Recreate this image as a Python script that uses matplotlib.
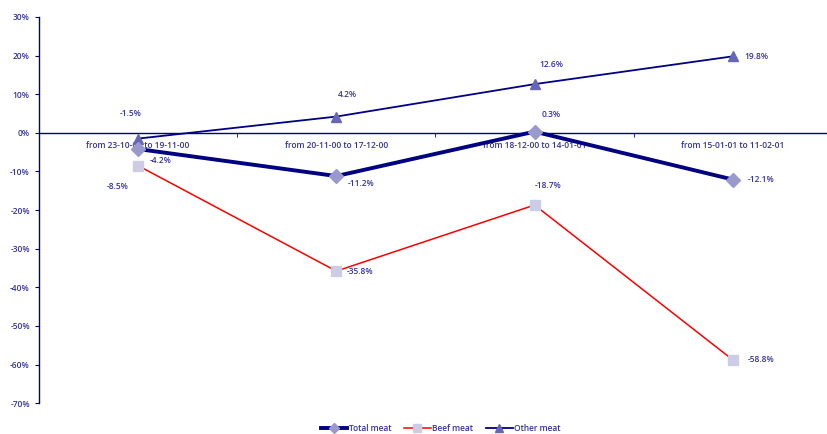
from matplotlib import pyplot as plt

periods = ["from 23-10-00 to 19-11-00", "from 20-11-00 to 17-12-00",
           "from 18-12-00 to 14-01-01", "from 15-01-01 to 11-02-01"]
total_meat = [-4.2, -11.2, 0.3, -12.1]
beef_meat = [-8.5, -35.8, -18.7, -58.8]
other_meat = [-1.5, 4.2, 12.6, 19.8]

navy = '#000080'
txt = '#333399'
plt.rcParams['font.family'] = ['Open Sans', 'DejaVu Sans']

fig = plt.figure(figsize=(8.27, 4.34), dpi=100)
ax = fig.add_axes([0.047, 0.071, 0.959, 0.89])

x = range(len(periods))
ax.plot(x, other_meat, color=navy, linewidth=1.3, marker='^', markersize=7,
        markerfacecolor='#6666b3', markeredgecolor='#6666b3', label='Other meat', zorder=3)
ax.plot(x, beef_meat, color='#ff0000', linewidth=1.1, marker='s', markersize=7,
        markerfacecolor='#ccccE6', markeredgecolor='#ccccE6', label='Beef meat', zorder=3)
ax.plot(x, total_meat, color=navy, linewidth=2.8, marker='D', markersize=7,
        markerfacecolor='#9999cc', markeredgecolor='#9999cc', label='Total meat', zorder=4)

# value labels
lab = dict(fontsize=6, color=txt, fontweight='semibold')
other_off = [(-5, 18), (8, 16), (12, 14), (17, 0)]
total_off = [(16, -8), (18, -5), (12, 12), (20, 0)]
beef_off = [(-15, -15), (17, 0), (10, 14), (20, 0)]
for i in x:
    ax.annotate(f"{other_meat[i]:.1f}%", (i, other_meat[i]), xytext=other_off[i],
                textcoords='offset points', ha='center', va='center', **lab)
    ax.annotate(f"{total_meat[i]:.1f}%", (i, total_meat[i]), xytext=total_off[i],
                textcoords='offset points', ha='center', va='center', **lab)
    ax.annotate(f"{beef_meat[i]:.1f}%", (i, beef_meat[i]), xytext=beef_off[i],
                textcoords='offset points', ha='center', va='center', **lab)

ax.set_xlim(-0.5, 3.5)
ax.set_ylim(-70, 30)
ax.set_yticks(range(-70, 31, 10))
ax.set_yticklabels([f"{v}%" for v in range(-70, 31, 10)])

ax.spines['top'].set_visible(False)
ax.spines['right'].set_visible(False)
ax.spines['bottom'].set_position(('data', 0))
for s in ('left', 'bottom'):
    ax.spines[s].set_color(navy)
    ax.spines[s].set_linewidth(1)

ax.set_xticks(list(x))
ax.set_xticklabels(periods)
ax.set_xticks([0.5, 1.5, 2.5], minor=True)
ax.tick_params(axis='x', which='major', length=0, pad=6, labelsize=6, labelcolor=txt)
ax.tick_params(axis='x', which='minor', length=3, color=navy, direction='out')
ax.tick_params(axis='y', length=3, color=navy, labelsize=6, labelcolor=txt)
for t in ax.get_xticklabels() + ax.get_yticklabels():
    t.set_fontweight('semibold')

handles, labels = ax.get_legend_handles_labels()
order = [2, 1, 0]
fig.legend([handles[i] for i in order], [labels[i] for i in order], loc='lower center',
           bbox_to_anchor=(0.533, -0.015), ncol=3, frameon=False, handlelength=3.2,
           handletextpad=0.2, columnspacing=1.5, markerscale=0.8,
           prop={'size': 6, 'weight': 'semibold'}, labelcolor=txt)

plt.savefig('out.png', dpi=100)
